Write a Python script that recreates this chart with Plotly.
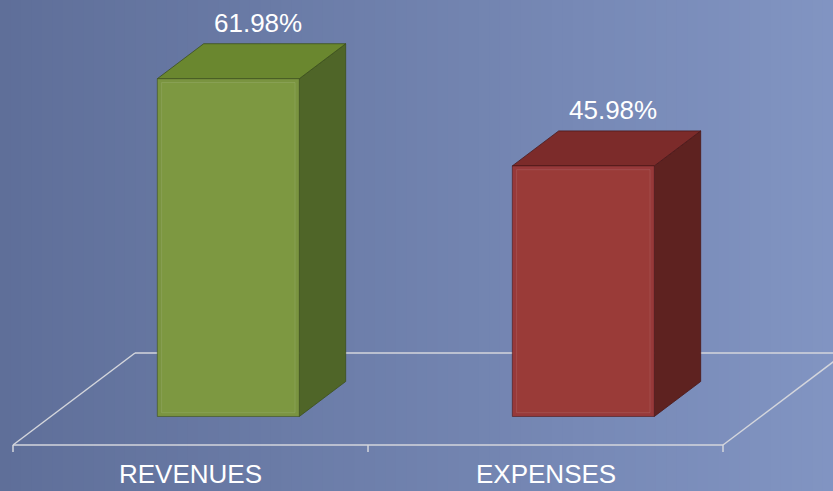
import plotly.graph_objects as go

# ---- data ----
categories = ["REVENUES", "EXPENSES"]
values = [61.98, 45.98]
value_labels = ["61.98%", "45.98%"]

# ---- styling ----
front_colors = ["#7a9440", "#97393a"]
inner_colors = ["#7d9841", "#9a3b38"]
side_colors = ["#4f6528", "#5e2220"]
top_colors = ["#6a872f", "#7c2b2a"]
edge_colors = ["#3c4f1c", "#4a1818"]
floor_color = "#d4d6dc"
font_family = "Liberation Sans, Arial, sans-serif"

# oblique projection parameters (axis units per unit depth)
DX = 122 / 355
DY = 92 / 5.45
D0, D1 = 0.31, 0.69       # bar depth span
HW = 0.2                  # bar half width (category units)


def proj(x, y, d):
    return x + d * DX, y + d * DY


def poly(pts, fill, line_color, width=0.8):
    xs, ys = [], []
    for p in pts:
        px, py = proj(*p)
        xs.append(px)
        ys.append(py)
    xs.append(xs[0])
    ys.append(ys[0])
    return go.Scatter(x=xs, y=ys, mode="lines", fill="toself", fillcolor=fill,
                      line=dict(color=line_color, width=width),
                      hoverinfo="skip", showlegend=False)


fig = go.Figure()

# floor
n = len(categories)
x_lo, x_hi = -0.5, n - 0.5
floor_segments = [
    [(x_lo, 0, 1), (x_hi, 0, 1)],
    [(x_lo, 0, 0), (x_lo, 0, 1)],
    [(x_hi, 0, 0), (x_hi, 0, 1)],
    [(x_lo, 0, 0), (x_hi, 0, 0)],
]
for seg in floor_segments:
    xs, ys = zip(*[proj(*p) for p in seg])
    fig.add_trace(go.Scatter(x=list(xs), y=list(ys), mode="lines",
                             line=dict(color=floor_color, width=1.5),
                             hoverinfo="skip", showlegend=False))
# tick marks at category boundaries
for k in range(n + 1):
    xb = x_lo + k
    fig.add_trace(go.Scatter(x=[xb, xb], y=[0, -1.3], mode="lines",
                             line=dict(color=floor_color, width=1.5),
                             hoverinfo="skip", showlegend=False))

# bars
for i, (cat, v) in enumerate(zip(categories, values)):
    c = i
    l, r = c - HW, c + HW
    # right side
    fig.add_trace(poly([(r, 0, D0), (r, 0, D1), (r, v, D1), (r, v, D0)],
                       side_colors[i], edge_colors[i]))
    # top
    fig.add_trace(poly([(l, v, D0), (r, v, D0), (r, v, D1), (l, v, D1)],
                       top_colors[i], edge_colors[i]))
    # front
    fig.add_trace(poly([(l, 0, D0), (r, 0, D0), (r, v, D0), (l, v, D0)],
                       front_colors[i], edge_colors[i], 0.6))
    # inner bevel
    ix, iy = 0.012, 0.7
    fig.add_trace(poly([(l + ix, iy, D0), (r - ix, iy, D0),
                        (r - ix, v - iy, D0), (l + ix, v - iy, D0)],
                       inner_colors[i], "rgba(255,255,255,0.10)", 1))

annotations = []
for i, (v, lab) in enumerate(zip(values, value_labels)):
    tx, ty = proj(i, v, (D0 + D1) / 2)
    _, ty_back = proj(i, v, D1)
    annotations.append(dict(x=tx, y=ty_back, text=lab, showarrow=False,
                            xshift=6, yshift=21, yanchor="middle",
                            font=dict(family=font_family, size=26, color="white")))
for i, cat in enumerate(categories):
    annotations.append(dict(x=i, y=-5.4, text=cat, showarrow=False,
                            yanchor="middle",
                            font=dict(family=font_family, size=26, color="white")))

# background gradient
shapes = []
N = 80
c0 = (95, 111, 153)
c1 = (129, 148, 194)
for k in range(N):
    t = k / (N - 1)
    col = tuple(round(c0[j] + (c1[j] - c0[j]) * t) for j in range(3))
    shapes.append(dict(type="rect", xref="paper", yref="paper",
                       x0=k / N, x1=(k + 1) / N + 0.002, y0=0, y1=1,
                       fillcolor="rgb(%d,%d,%d)" % col, line=dict(width=0),
                       layer="below"))

x_left = -0.5 - 13 / 355
fig.update_layout(
    width=833, height=491,
    margin=dict(l=0, r=0, t=0, b=0),
    paper_bgcolor="rgb(112,128,172)",
    plot_bgcolor="rgba(0,0,0,0)",
    xaxis=dict(range=[x_left, x_left + 833 / 355], visible=False, fixedrange=True),
    yaxis=dict(range=[-46 / 5.45, 445 / 5.45], visible=False, fixedrange=True),
    shapes=shapes,
    annotations=annotations,
    showlegend=False,
)

fig.write_html("out.html", config={"displayModeBar": False},
               post_script="document.body.style.margin='0';document.body.style.overflow='hidden';")
